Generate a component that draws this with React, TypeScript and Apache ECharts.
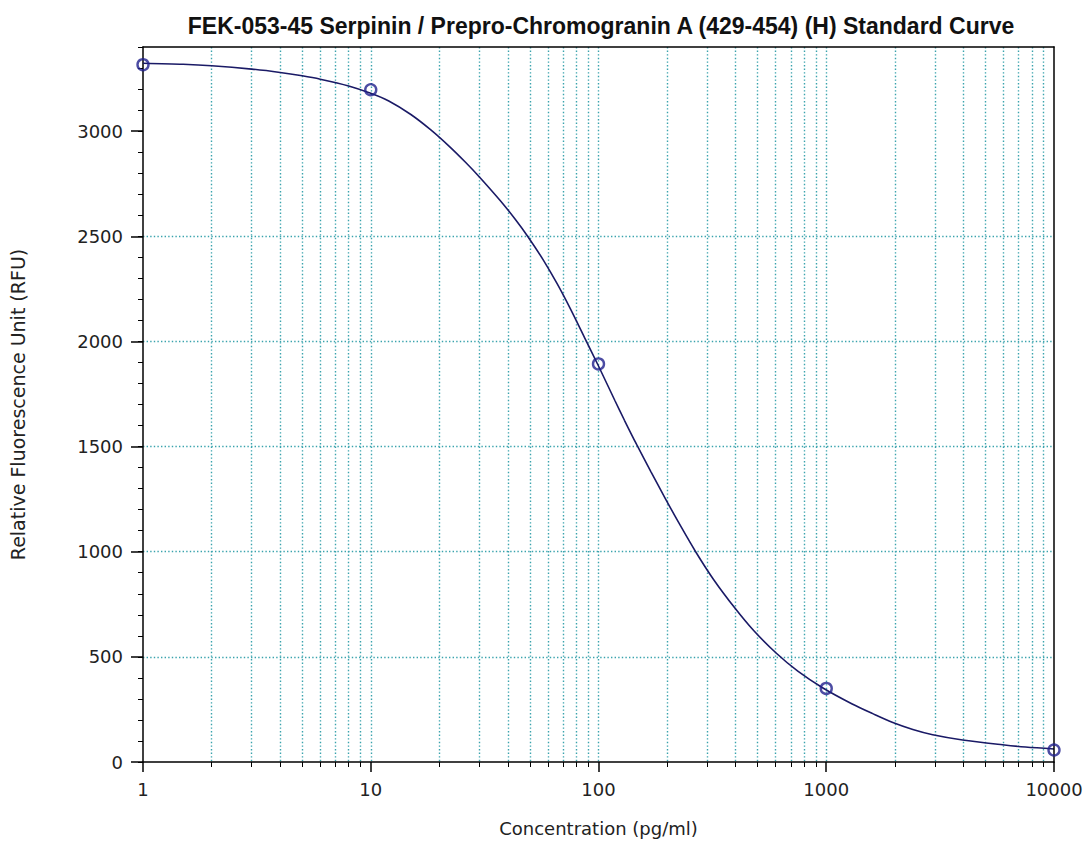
import React, { useEffect, useRef } from "react";
import * as echarts from "echarts";

const TITLE = "FEK-053-45 Serpinin / Prepro-Chromogranin A (429-454) (H) Standard Curve";
const X_NAME = "Concentration (pg/ml)";
const Y_NAME = "Relative Fluorescence Unit (RFU)";

// Standards (measured points)
const stdConc = [1, 10, 100, 1000, 10000];
const stdRFU = [3316, 3197, 1893, 350, 57];

// Fitted curve
const curveConc = [1, 1.5, 2, 3, 4, 5, 6, 8, 10, 12, 15, 18.3, 22, 26, 30, 37, 43, 49, 57, 66, 75, 87.5, 100, 118, 130, 147, 170, 196, 230, 267, 320, 397, 480, 604, 750, 967, 1300, 1600, 1960, 2400, 2933, 3970, 5942, 7500, 10000];
const curveRFU = [3323, 3318, 3311, 3295, 3279, 3263, 3247, 3215, 3180, 3143, 3079, 3007, 2930, 2853, 2782, 2670, 2582, 2498, 2390, 2272, 2158, 2011, 1883, 1719, 1625, 1510, 1380, 1255, 1120, 1000, 868, 732, 625, 517, 432, 352, 276, 230, 188, 155, 130, 105, 82, 71, 62];

// Axis ticks
const xMajor = [1, 10, 100, 1000, 10000];
const xMinor = [2, 3, 4, 5, 6, 7, 8, 9, 20, 30, 40, 50, 60, 70, 80, 90, 200, 300, 400, 500, 600, 700, 800, 900, 2000, 3000, 4000, 5000, 6000, 7000, 8000, 9000];
const yMajor = [0, 500, 1000, 1500, 2000, 2500, 3000];

const GRID_COLOR = "#3aa3ad";
const FONT = "DejaVu Sans";

export default function App() {
  const ref = useRef<HTMLDivElement>(null);
  useEffect(() => {
    if (!ref.current) return;
    const chart = echarts.init(ref.current, null, { renderer: "svg" });
    const splitStyle = { color: GRID_COLOR, width: 1.4, type: [1.4, 2.2] as any };
    const plain = (v: number) => String(v);
    chart.setOption({
      animation: false,
      backgroundColor: "#ffffff",
      title: {
        text: TITLE,
        left: 596,
        top: 9,
        textAlign: "center",
        textStyle: { fontFamily: "Liberation Sans", fontWeight: "bold", fontSize: 23, color: "#111" },
      },
      grid: { left: 142, right: 38, top: 47, bottom: 86, containLabel: false },
      xAxis: [
        {
          type: "log",
          logBase: 10,
          min: 1,
          max: 10000,
          position: "bottom",
          z: 2,
          name: X_NAME,
          nameLocation: "middle",
          nameGap: 57,
          nameTextStyle: { fontFamily: FONT, fontSize: 18, color: "#222" },
          axisLine: { show: true, onZero: false, lineStyle: { color: "#000", width: 1.5 } },
          axisTick: { show: true, customValues: xMajor, length: 10, lineStyle: { color: "#000", width: 1.5 } },
          axisLabel: { customValues: xMajor, formatter: plain, fontFamily: FONT, fontSize: 18, color: "#222", margin: 18 },
          splitLine: { show: true, showMinLine: false, showMaxLine: false, lineStyle: splitStyle },
          minorTick: { show: false },
        },
        {
          type: "log",
          logBase: 10,
          min: 1,
          max: 10000,
          position: "bottom",
          z: 1,
          axisLine: { show: false, onZero: false },
          axisTick: { show: true, customValues: xMinor, length: 5, lineStyle: { color: "#000", width: 1 } },
          axisLabel: { show: false },
          splitLine: { show: true, lineStyle: splitStyle },
        },
        {
          type: "log",
          logBase: 10,
          min: 1,
          max: 10000,
          position: "top",
          z: 5,
          axisLine: { show: true, onZero: false, lineStyle: { color: "#000", width: 1.5 } },
          axisTick: { show: false },
          axisLabel: { show: false },
          splitLine: { show: false },
        },
      ],
      yAxis: [
        {
          type: "value",
          min: 0,
          max: 3400,
          position: "left",
          z: 2,
          name: Y_NAME,
          nameLocation: "middle",
          nameGap: 116,
          nameTextStyle: { fontFamily: FONT, fontSize: 19, color: "#222" },
          axisLine: { show: true, onZero: false, lineStyle: { color: "#000", width: 1.5 } },
          axisTick: { show: true, customValues: yMajor, length: 12, lineStyle: { color: "#000", width: 1.5 } },
          axisLabel: { customValues: yMajor, formatter: plain, fontFamily: FONT, fontSize: 18, color: "#222", margin: 20 },
          splitLine: { show: true, showMinLine: false, showMaxLine: false, lineStyle: splitStyle },
        },
        {
          type: "value",
          min: 0,
          max: 3400,
          interval: 100,
          position: "left",
          z: 1,
          axisLine: { show: false, onZero: false },
          axisTick: { show: true, length: 5, lineStyle: { color: "#000", width: 1 } },
          axisLabel: { show: false },
          splitLine: { show: false },
        },
        {
          type: "value",
          min: 0,
          max: 3400,
          position: "right",
          z: 5,
          axisLine: { show: true, onZero: false, lineStyle: { color: "#000", width: 1.5 } },
          axisTick: { show: false },
          axisLabel: { show: false },
          splitLine: { show: false },
        },
      ],
      series: [
        {
          type: "line",
          name: "Curve",
          xAxisIndex: 0,
          yAxisIndex: 0,
          data: curveConc.map((c, i) => [c, curveRFU[i]]),
          smooth: 0.3,
          showSymbol: false,
          symbol: "none",
          z: 3,
          lineStyle: { color: "#1a1a66", width: 1.6 },
        },
        {
          type: "scatter",
          name: "Standards",
          xAxisIndex: 0,
          yAxisIndex: 0,
          clip: false,
          data: stdConc.map((c, i) => [c, stdRFU[i]]),
          symbol: "circle",
          symbolSize: 11,
          z: 6,
          itemStyle: { color: "rgba(255,255,255,0)", borderColor: "#1f1f8c", borderWidth: 2.4 },
        },
      ],
    });
    return () => chart.dispose();
  }, []);
  return (
    <div
      ref={ref}
      style={{ position: "fixed", left: 0, top: 0, width: 1092, height: 848, background: "#fff" }}
    />
  );
}
